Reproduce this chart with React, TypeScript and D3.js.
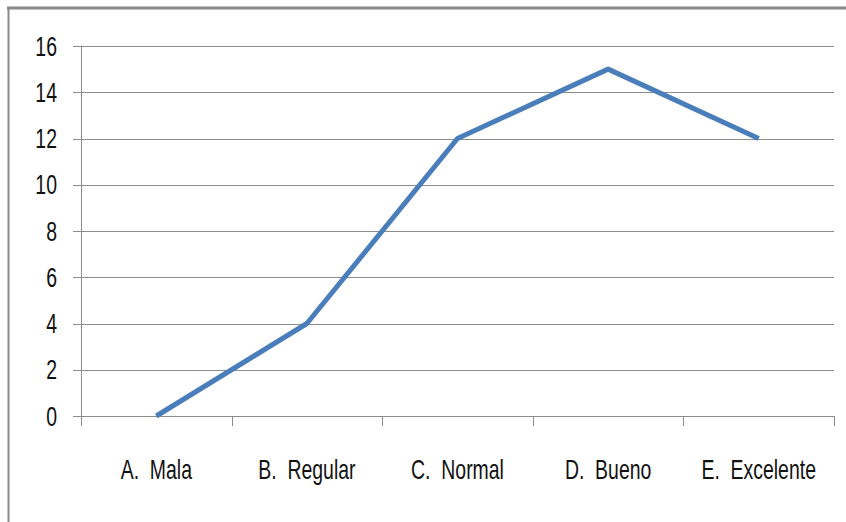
import React from "react";
import * as d3 from "d3";

const categories = ["A.  Mala", "B.  Regular", "C.  Normal", "D.  Bueno", "E.  Excelente"];
const values = [0, 4, 12, 15, 12];
const yTicks = [0, 2, 4, 6, 8, 10, 12, 14, 16];

export default function App() {
  const W = 846, H = 522;
  const left = 81, right = 834, top = 46, bottom = 416;
  const x = d3.scaleBand().domain(categories).range([left, right]);
  const y = d3.scaleLinear().domain([0, 16]).range([bottom, top]);
  const line = d3.line<number>()
    .x((_, i) => (x(categories[i]) as number) + x.bandwidth() / 2)
    .y((d) => y(d));
  const grid = "#8c8c8c";
  const font = "'Liberation Sans', Arial, sans-serif";
  const bounds = categories.map((c) => x(c) as number).concat([right]);
  return (
    <svg width={W} height={H} style={{ position: "absolute", left: 0, top: 0, background: "#fff" }}>
      <rect x={0} y={0} width={W} height={H} fill="#fff" />
      <line x1={7} x2={W} y1={8} y2={8} stroke="#8a8a8a" strokeWidth={3} />
      <line x1={8.5} x2={8.5} y1={7} y2={H} stroke="#8a8a8a" strokeWidth={2} />
      {yTicks.map((t) => (
        <g key={t}>
          <line x1={73} x2={right} y1={Math.round(y(t)) + 0.5} y2={Math.round(y(t)) + 0.5} stroke={grid} strokeWidth={1} />
          <text
            transform={`translate(57,${y(t) + 9.5}) scale(0.72,1)`}
            textAnchor="end"
            fontFamily={font}
            fontSize={27}
            fill="#111"
          >
            {t}
          </text>
        </g>
      ))}
      <line x1={left + 0.5} x2={left + 0.5} y1={top} y2={bottom} stroke={grid} strokeWidth={1} />
      {bounds.map((b, i) => (
        <line key={i} x1={Math.round(b) + 0.5} x2={Math.round(b) + 0.5} y1={bottom} y2={bottom + 10} stroke={grid} strokeWidth={1} />
      ))}
      {categories.map((c) => (
        <text
          key={c}
          transform={`translate(${(x(c) as number) + x.bandwidth() / 2},${479}) scale(0.72,1)`}
          textAnchor="middle"
          fontFamily={font}
          fontSize={27}
          fill="#111"
          style={{ whiteSpace: "pre" }}
        >
          {c}
        </text>
      ))}
      <path d={line(values) || ""} fill="none" stroke="#4a7ebb" strokeWidth={5} strokeLinejoin="round" strokeLinecap="butt" />
    </svg>
  );
}
